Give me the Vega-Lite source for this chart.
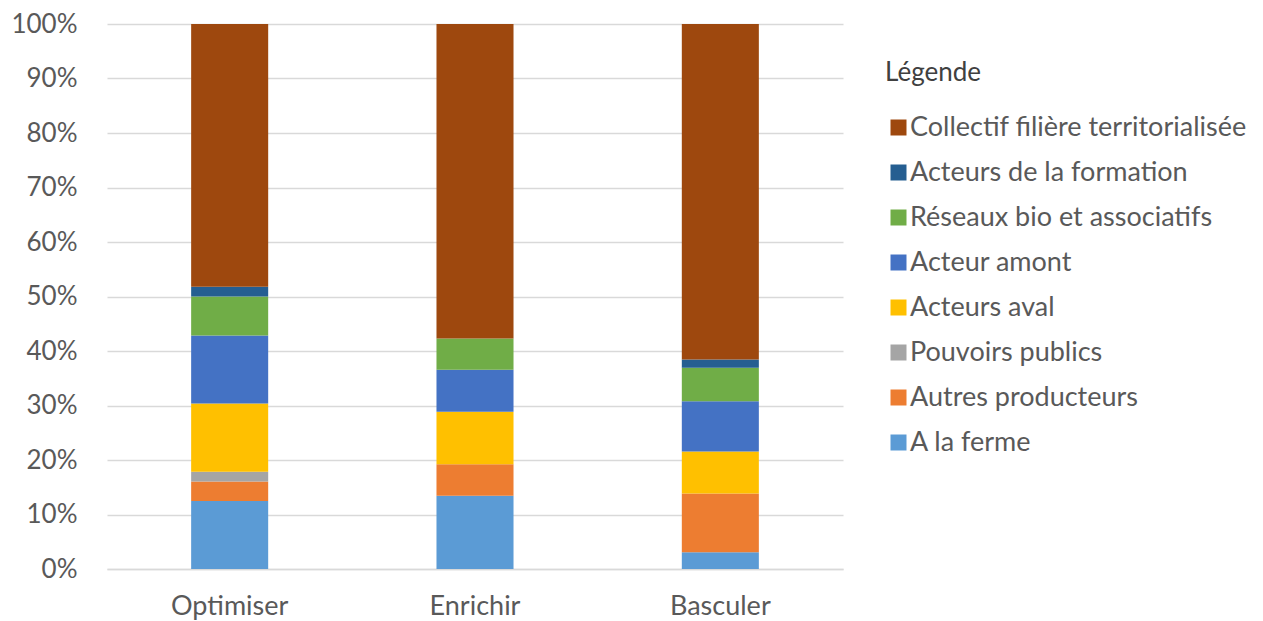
{
  "$schema": "https://vega.github.io/schema/vega-lite/v6.json",
  "autosize": {"type": "none"},
  "width": 736,
  "height": 545,
  "padding": {"left": 107, "top": 24, "right": 420, "bottom": 52},
  "background": "white",
  "config": {
    "font": "Lato",
    "view": {"stroke": null}
  },
  "data": {
    "values": [
      {"scenario": "Optimiser", "acteur": "A la ferme", "ordre": 1, "n": 7},
      {"scenario": "Optimiser", "acteur": "Autres producteurs", "ordre": 2, "n": 2},
      {"scenario": "Optimiser", "acteur": "Pouvoirs publics", "ordre": 3, "n": 1},
      {"scenario": "Optimiser", "acteur": "Acteurs aval", "ordre": 4, "n": 7},
      {"scenario": "Optimiser", "acteur": "Acteur amont", "ordre": 5, "n": 7},
      {"scenario": "Optimiser", "acteur": "Réseaux bio et associatifs", "ordre": 6, "n": 4},
      {"scenario": "Optimiser", "acteur": "Acteurs de la formation", "ordre": 7, "n": 1},
      {"scenario": "Optimiser", "acteur": "Collectif filière territorialisée", "ordre": 8, "n": 27},
      {"scenario": "Enrichir", "acteur": "A la ferme", "ordre": 1, "n": 7},
      {"scenario": "Enrichir", "acteur": "Autres producteurs", "ordre": 2, "n": 3},
      {"scenario": "Enrichir", "acteur": "Pouvoirs publics", "ordre": 3, "n": 0},
      {"scenario": "Enrichir", "acteur": "Acteurs aval", "ordre": 4, "n": 5},
      {"scenario": "Enrichir", "acteur": "Acteur amont", "ordre": 5, "n": 4},
      {"scenario": "Enrichir", "acteur": "Réseaux bio et associatifs", "ordre": 6, "n": 3},
      {"scenario": "Enrichir", "acteur": "Acteurs de la formation", "ordre": 7, "n": 0},
      {"scenario": "Enrichir", "acteur": "Collectif filière territorialisée", "ordre": 8, "n": 30},
      {"scenario": "Basculer", "acteur": "A la ferme", "ordre": 1, "n": 2},
      {"scenario": "Basculer", "acteur": "Autres producteurs", "ordre": 2, "n": 7},
      {"scenario": "Basculer", "acteur": "Pouvoirs publics", "ordre": 3, "n": 0},
      {"scenario": "Basculer", "acteur": "Acteurs aval", "ordre": 4, "n": 5},
      {"scenario": "Basculer", "acteur": "Acteur amont", "ordre": 5, "n": 6},
      {"scenario": "Basculer", "acteur": "Réseaux bio et associatifs", "ordre": 6, "n": 4},
      {"scenario": "Basculer", "acteur": "Acteurs de la formation", "ordre": 7, "n": 1},
      {"scenario": "Basculer", "acteur": "Collectif filière territorialisée", "ordre": 8, "n": 40}
    ]
  },
  "mark": {"type": "bar"},
  "encoding": {
    "x": {
      "field": "scenario",
      "type": "nominal",
      "sort": ["Optimiser", "Enrichir", "Basculer"],
      "scale": {"paddingInner": 0.686, "paddingOuter": 0.343},
      "axis": {
        "title": null,
        "labelAngle": 0,
        "labelFontSize": 27,
        "labelColor": "#595959",
        "labelPadding": 24,
        "ticks": false,
        "domainColor": "#D9D9D9",
        "domainWidth": 1.5
      }
    },
    "y": {
      "field": "n",
      "type": "quantitative",
      "stack": "normalize",
      "scale": {"domain": [0, 1]},
      "axis": {
        "title": null,
        "format": ".0%",
        "values": [0, 0.1, 0.2, 0.3, 0.4, 0.5, 0.6, 0.7, 0.8, 0.9, 1],
        "labelFontSize": 26,
        "labelColor": "#595959",
        "labelPadding": 30,
        "ticks": false,
        "domain": false,
        "gridColor": "#D9D9D9",
        "gridWidth": 1.5
      }
    },
    "color": {
      "field": "acteur",
      "type": "nominal",
      "scale": {
        "domain": ["Collectif filière territorialisée", "Acteurs de la formation", "Réseaux bio et associatifs", "Acteur amont", "Acteurs aval", "Pouvoirs publics", "Autres producteurs", "A la ferme"],
        "range": ["#9E480E", "#255E91", "#70AD47", "#4472C4", "#FFC000", "#A5A5A5", "#ED7D31", "#5B9BD5"]
      },
      "legend": {
        "title": "Légende",
        "orient": "none",
        "legendX": 778,
        "legendY": 36,
        "titleFontSize": 26,
        "titleFontWeight": "normal",
        "titleColor": "#404040",
        "titlePadding": 28,
        "labelFontSize": 27,
        "labelColor": "#595959",
        "labelOffset": -2,
        "symbolType": "square",
        "symbolSize": 256,
        "symbolStrokeWidth": 0,
        "rowPadding": 17,
        "labelLimit": 400
      }
    },
    "order": {"field": "ordre", "type": "quantitative"}
  }
}
